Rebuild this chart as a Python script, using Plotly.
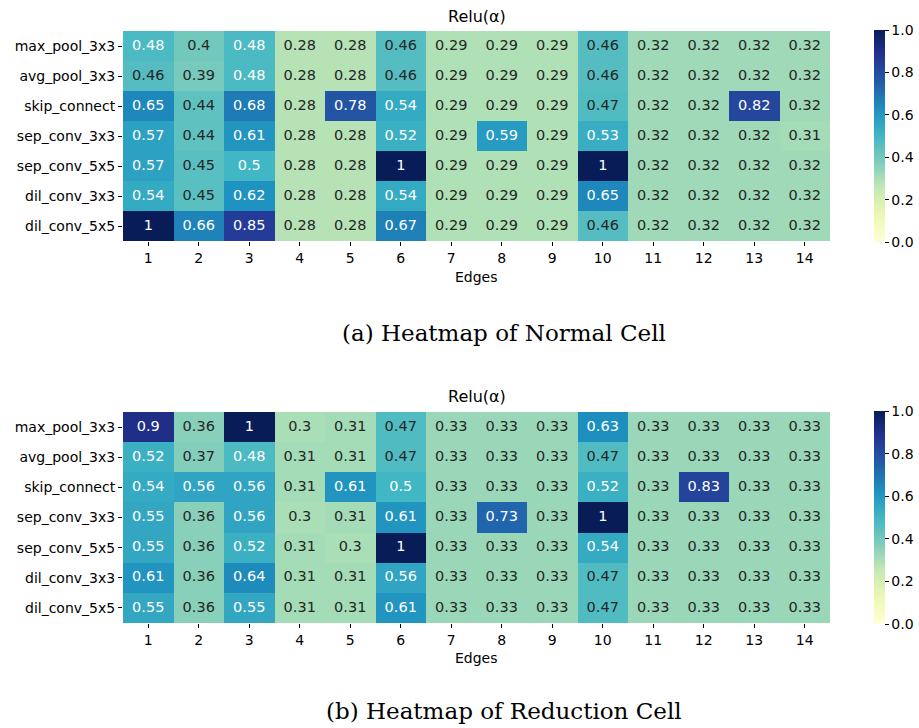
import plotly.graph_objects as go

ops = ["max_pool_3x3", "avg_pool_3x3", "skip_connect", "sep_conv_3x3",
       "sep_conv_5x5", "dil_conv_3x3", "dil_conv_5x5"]
edges = list(range(1, 15))

normal = [
    [0.48, 0.4, 0.48, 0.28, 0.28, 0.46, 0.29, 0.29, 0.29, 0.46, 0.32, 0.32, 0.32, 0.32],
    [0.46, 0.39, 0.48, 0.28, 0.28, 0.46, 0.29, 0.29, 0.29, 0.46, 0.32, 0.32, 0.32, 0.32],
    [0.65, 0.44, 0.68, 0.28, 0.78, 0.54, 0.29, 0.29, 0.29, 0.47, 0.32, 0.32, 0.82, 0.32],
    [0.57, 0.44, 0.61, 0.28, 0.28, 0.52, 0.29, 0.59, 0.29, 0.53, 0.32, 0.32, 0.32, 0.31],
    [0.57, 0.45, 0.5, 0.28, 0.28, 1.0, 0.29, 0.29, 0.29, 1.0, 0.32, 0.32, 0.32, 0.32],
    [0.54, 0.45, 0.62, 0.28, 0.28, 0.54, 0.29, 0.29, 0.29, 0.65, 0.32, 0.32, 0.32, 0.32],
    [1.0, 0.66, 0.85, 0.28, 0.28, 0.67, 0.29, 0.29, 0.29, 0.46, 0.32, 0.32, 0.32, 0.32],
]
reduction = [
    [0.9, 0.36, 1.0, 0.3, 0.31, 0.47, 0.33, 0.33, 0.33, 0.63, 0.33, 0.33, 0.33, 0.33],
    [0.52, 0.37, 0.48, 0.31, 0.31, 0.47, 0.33, 0.33, 0.33, 0.47, 0.33, 0.33, 0.33, 0.33],
    [0.54, 0.56, 0.56, 0.31, 0.61, 0.5, 0.33, 0.33, 0.33, 0.52, 0.33, 0.83, 0.33, 0.33],
    [0.55, 0.36, 0.56, 0.3, 0.31, 0.61, 0.33, 0.73, 0.33, 1.0, 0.33, 0.33, 0.33, 0.33],
    [0.55, 0.36, 0.52, 0.31, 0.3, 1.0, 0.33, 0.33, 0.33, 0.54, 0.33, 0.33, 0.33, 0.33],
    [0.61, 0.36, 0.64, 0.31, 0.31, 0.56, 0.33, 0.33, 0.33, 0.47, 0.33, 0.33, 0.33, 0.33],
    [0.55, 0.36, 0.55, 0.31, 0.31, 0.61, 0.33, 0.33, 0.33, 0.47, 0.33, 0.33, 0.33, 0.33],
]
colorbar_ticks = [0.0, 0.2, 0.4, 0.6, 0.8, 1.0]

ylgnbu = ['#ffffd9', '#edf8b1', '#c7e9b4', '#7fcdbb', '#41b6c4',
          '#1d91c0', '#225ea8', '#253494', '#081d58']
cscale = [[i / 8, c] for i, c in enumerate(ylgnbu)]

W, H = 919, 728
FONT = "DejaVu Sans"
x0, x1 = 123 / W, 830 / W


def ydom(top, bot):
    return [1 - bot / H, 1 - top / H]


fig = go.Figure()
panels = [(normal, "x", "y", 31, 241), (reduction, "x2", "y2", 412, 623)]
for z, xa, ya, top, bot in panels:
    fig.add_trace(go.Heatmap(
        z=z, x=edges, y=ops, xaxis=xa, yaxis=ya, colorscale=cscale,
        zmin=0, zmax=1, hoverinfo="skip",
        colorbar=dict(x=874 / W, xanchor="left", xref="paper", xpad=0,
                      y=1 - (bot + 1) / H, yanchor="bottom", ypad=0,
                      len=(bot + 1 - (top - 1)) / H,
                      lenmode="fraction", thickness=11, outlinewidth=0,
                      tickvals=colorbar_ticks, tickformat=".1f",
                      ticks="outside", ticklen=4, tickcolor="#000",
                      tickfont=dict(family=FONT, size=14, color="#000")),
    ))
    xs, ys, txt, cols = [], [], [], []
    for r, row in enumerate(z):
        for c, v in enumerate(row):
            xs.append(edges[c]); ys.append(ops[r])
            txt.append(f"{v:.2g}")
            cols.append("#ffffff" if v >= 0.475 else "#262626")
    fig.add_trace(go.Scatter(
        x=xs, y=ys, xaxis=xa, yaxis=ya, mode="text", text=txt,
        textfont=dict(family=FONT, size=14.5, color=cols),
        hoverinfo="skip", showlegend=False,
    ))

axis_common = dict(showgrid=False, zeroline=False, showline=False,
                   ticks="outside", ticklen=4, tickcolor="#000",
                   tickfont=dict(family=FONT, size=14, color="#000"))
fig.update_layout(
    width=W, height=H, margin=dict(l=0, r=0, t=0, b=0),
    paper_bgcolor="white", plot_bgcolor="white", showlegend=False,
    xaxis=dict(domain=[x0, x1], range=[0.5, 14.5], tickvals=edges,
               anchor="y", **axis_common),
    yaxis=dict(domain=ydom(31, 241), categoryorder="array",
               categoryarray=ops, autorange="reversed", anchor="x",
               **axis_common),
    xaxis2=dict(domain=[x0, x1], range=[0.5, 14.5], tickvals=edges,
                anchor="y2", **axis_common),
    yaxis2=dict(domain=ydom(412, 623), categoryorder="array",
                categoryarray=ops, autorange="reversed", anchor="x2",
                **axis_common),
)

cx = (123 + 830) / 2 / W
capx = 504 / W
ann = [
    ("Relu(α)", cx, 16, FONT, 16),
    ("Edges", cx, 277, FONT, 14),
    ("(a) Heatmap of Normal Cell", capx, 333, "DejaVu Serif", 23),
    ("Relu(α)", cx, 397, FONT, 16),
    ("Edges", cx, 658, FONT, 14),
    ("(b) Heatmap of Reduction Cell", capx, 711, "DejaVu Serif", 23),
]
for t, x, y, fam, sz in ann:
    fig.add_annotation(text=t, x=x, y=1 - y / H, xref="paper", yref="paper",
                       xanchor="center", yanchor="middle", showarrow=False,
                       font=dict(family=fam, size=sz, color="#000"))

fig.write_html("out.html")
